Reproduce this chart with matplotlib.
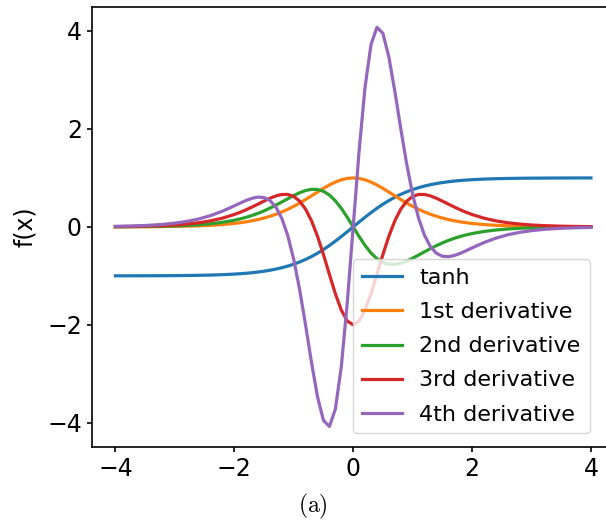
import matplotlib
matplotlib.use("Agg")
import matplotlib.pyplot as plt

# Values
x = [-4.0, -3.8, -3.6, -3.4, -3.2, -3.0, -2.8, -2.6, -2.4, -2.2,
     -2.0, -1.9, -1.8, -1.7, -1.6, -1.5, -1.4, -1.3, -1.2, -1.1,
     -1.0, -0.9, -0.8, -0.7, -0.6, -0.5, -0.4, -0.3, -0.2, -0.1,
     0.0,
     0.1, 0.2, 0.3, 0.4, 0.5, 0.6, 0.7, 0.8, 0.9, 1.0,
     1.1, 1.2, 1.3, 1.4, 1.5, 1.6, 1.7, 1.8, 1.9, 2.0,
     2.2, 2.4, 2.6, 2.8, 3.0, 3.2, 3.4, 3.6, 3.8, 4.0]

tanh_y = [-0.9993, -0.9990, -0.9985, -0.9978, -0.9967, -0.9951, -0.9926, -0.9890, -0.9837, -0.9757,
          -0.9640, -0.9562, -0.9468, -0.9354, -0.9217, -0.9051, -0.8854, -0.8617, -0.8337, -0.8005,
          -0.7616, -0.7163, -0.6640, -0.6044, -0.5370, -0.4621, -0.3799, -0.2913, -0.1974, -0.0997,
          0.0,
          0.0997, 0.1974, 0.2913, 0.3799, 0.4621, 0.5370, 0.6044, 0.6640, 0.7163, 0.7616,
          0.8005, 0.8337, 0.8617, 0.8854, 0.9051, 0.9217, 0.9354, 0.9468, 0.9562, 0.9640,
          0.9757, 0.9837, 0.9890, 0.9926, 0.9951, 0.9967, 0.9978, 0.9985, 0.9990, 0.9993]

d1_y = [0.0013, 0.0020, 0.0030, 0.0045, 0.0066, 0.0099, 0.0147, 0.0218, 0.0324, 0.0479,
        0.0707, 0.0856, 0.1036, 0.1250, 0.1505, 0.1807, 0.2162, 0.2574, 0.3050, 0.3592,
        0.4200, 0.4869, 0.5591, 0.6347, 0.7116, 0.7864, 0.8556, 0.9151, 0.9610, 0.9901,
        1.0,
        0.9901, 0.9610, 0.9151, 0.8556, 0.7864, 0.7116, 0.6347, 0.5591, 0.4869, 0.4200,
        0.3592, 0.3050, 0.2574, 0.2162, 0.1807, 0.1505, 0.1250, 0.1036, 0.0856, 0.0707,
        0.0479, 0.0324, 0.0218, 0.0147, 0.0099, 0.0066, 0.0045, 0.0030, 0.0020, 0.0013]

d2_y = [0.0027, 0.0040, 0.0060, 0.0089, 0.0132, 0.0197, 0.0291, 0.0432, 0.0637, 0.0935,
        0.1362, 0.1637, 0.1961, 0.2339, 0.2775, 0.3271, 0.3828, 0.4437, 0.5086, 0.5751,
        0.6397, 0.6976, 0.7425, 0.7672, 0.7643, 0.7269, 0.6502, 0.5332, 0.3794, 0.1974,
        0.0,
        -0.1974, -0.3794, -0.5332, -0.6502, -0.7269, -0.7643, -0.7672, -0.7425, -0.6976, -0.6397,
        -0.5751, -0.5086, -0.4437, -0.3828, -0.3271, -0.2775, -0.2339, -0.1961, -0.1637, -0.1362,
        -0.0935, -0.0637, -0.0432, -0.0291, -0.0197, -0.0132, -0.0089, -0.0060, -0.0040, -0.0027]

d3_y = [0.0054, 0.0080, 0.0119, 0.0177, 0.0263, 0.0389, 0.0574, 0.0844, 0.1233, 0.1779,
        0.2527, 0.2984, 0.3499, 0.4063, 0.4661, 0.5269, 0.5843, 0.6321, 0.6619, 0.6627,
        0.6216, 0.5252, 0.3610, 0.1216, -0.1918, -0.5652, -0.9702, -1.3643, -1.6974, -1.9211,
        -2.0,
        -1.9211, -1.6974, -1.3643, -0.9702, -0.5652, -0.1918, 0.1216, 0.3610, 0.5252, 0.6216,
        0.6627, 0.6619, 0.6321, 0.5843, 0.5269, 0.4661, 0.4063, 0.3499, 0.2984, 0.2527,
        0.1779, 0.1233, 0.0844, 0.0574, 0.0389, 0.0263, 0.0177, 0.0119, 0.0080, 0.0054]

d4_y = [0.0107, 0.0159, 0.0236, 0.0351, 0.0518, 0.0763, 0.1114, 0.1613, 0.2301, 0.3203,
        0.4294, 0.4867, 0.5407, 0.5847, 0.6087, 0.5992, 0.5382, 0.4041, 0.1727, -0.1785,
        -0.6651, -1.2855, -2.0111, -2.7750, -3.4692, -3.9523, -4.0753, -3.7225, -2.8577, -1.5554,
        0.0,
        1.5554, 2.8577, 3.7225, 4.0753, 3.9523, 3.4692, 2.7750, 2.0111, 1.2855, 0.6651,
        0.1785, -0.1727, -0.4041, -0.5382, -0.5992, -0.6087, -0.5847, -0.5407, -0.4867, -0.4294,
        -0.3203, -0.2301, -0.1613, -0.1114, -0.0763, -0.0518, -0.0351, -0.0236, -0.0159, -0.0107]

labels = ["tanh", "1st derivative", "2nd derivative", "3rd derivative", "4th derivative"]

plt.rcParams["mathtext.fontset"] = "cm"
plt.rcParams["axes.linewidth"] = 1.2
plt.rcParams["xtick.major.width"] = 1.2
plt.rcParams["ytick.major.width"] = 1.2

fig = plt.figure(figsize=(6.06, 5.22), dpi=100)
# axes extend past the right edge, like the cropped original
ax = fig.add_axes([0.1512, 0.1441, 0.8632, 0.8425])

for y, lab in zip([tanh_y, d1_y, d2_y, d3_y, d4_y], labels):
    ax.plot(x, y, linewidth=2.3, label=lab)

ax.set_xlim(-4.4, 4.4)
ax.set_ylim(-4.49, 4.49)
ax.set_xticks([-4, -2, 0, 2, 4])
ax.set_yticks([-4, -2, 0, 2, 4])
ax.tick_params(labelsize=17)
ax.set_ylabel("f(x)", fontsize=17)
ax.yaxis.set_label_coords(-0.104, 0.5)

ax.legend(loc="lower right", fontsize=16, bbox_to_anchor=(0.9775, 0.0),
          borderaxespad=0.6, labelspacing=0.635, handlelength=1.8)

fig.text(313 / 606, 1 - 506 / 522, r"$\mathrm{(a)}$", fontsize=17, ha="center", va="center")

fig.savefig("out.png", dpi=100)
